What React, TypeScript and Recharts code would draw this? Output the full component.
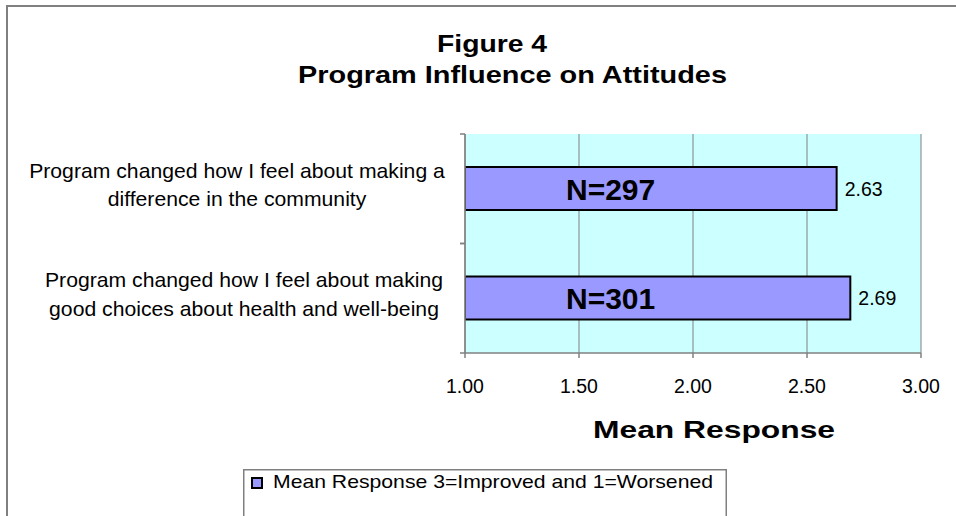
import React from "react";
import { BarChart, Bar, XAxis, YAxis, CartesianGrid, LabelList, Legend } from "recharts";

// ---- data ----
const categories = [
  "Program changed how I feel about making a|difference in the community",
  "Program changed how I feel about making|good choices about health and well-being",
];
const meanValues = [2.63, 2.69];
const sampleSizes = ["N=297", "N=301"];
const xTicks = [1, 1.5, 2, 2.5, 3];
const seriesName = "Mean Response 3=Improved and 1=Worsened";
const titleLines = ["Figure 4", "Program Influence on Attitudes"];
const xAxisTitle = "Mean Response";

const data = categories.map((c, i) => ({ category: c, value: meanValues[i], n: sampleSizes[i] }));

// ---- styles ----
const FONT = "'Liberation Sans', Arial, Helvetica, sans-serif";
const LABEL_CENTER_OFFSETS = [-228, -221];
const LINE_OFFSETS = [-11, 17.5];
const AXIS_GRAY = "#808080";

const CatTick = (props: any) => {
  const { x, y, payload } = props;
  const idx = categories.indexOf(payload.value);
  const lines = String(payload.value).split("|");
  const cx = x + (LABEL_CENTER_OFFSETS[idx] ?? -225);
  const half = Number(payload && payload.offset) || 0;
  return (
    <g>
      {half > 0 && (
        <>
          <line x1={x - 5} x2={x} y1={y - half} y2={y - half} stroke={AXIS_GRAY} strokeWidth={1.5} />
          <line x1={x - 5} x2={x} y1={y + half} y2={y + half} stroke={AXIS_GRAY} strokeWidth={1.5} />
        </>
      )}
      {lines.map((l, i) => (
        <g key={i} transform={`translate(${cx},${y + LINE_OFFSETS[i]}) scale(1.06,1)`}>
          <text x={0} y={0} textAnchor="middle" fontSize={20} fill="#000" fontFamily={FONT}>
            {l}
          </text>
        </g>
      ))}
    </g>
  );
};

const XTick = (props: any) => {
  const { x, y, payload } = props;
  return (
    <text x={x} y={y} dy="0.71em" textAnchor="middle" fontSize={19.5} fill="#000" fontFamily={FONT}>
      {Number(payload.value).toFixed(2)}
    </text>
  );
};

const NLabel = (props: any) => {
  const { x, y, height, value } = props;
  return (
    <text x={Number(x) + 101} y={Number(y) + Number(height) / 2} dy="0.38em" textAnchor="start" fontSize={30} fontWeight="bold" fill="#000" fontFamily={FONT}>
      {value}
    </text>
  );
};

const ValueLabel = (props: any) => {
  const { x, y, width, height, value } = props;
  return (
    <text x={Number(x) + Number(width) + 8} y={Number(y) + Number(height) / 2} dy="0.36em" textAnchor="start" fontSize={19.5} fill="#000" fontFamily={FONT}>
      {Number(value).toFixed(2)}
    </text>
  );
};

const LegendContent = (props: any) => {
  const { payload } = props;
  const item = payload && payload[0];
  return (
    <svg width={484} height={50} style={{ display: "block" }}>
      <rect x={0.75} y={0.75} width={482.5} height={60} fill="#fff" stroke={AXIS_GRAY} strokeWidth={1.5} />
      <rect x={9} y={9} width={10} height={10} fill="#9999FF" stroke="#000" strokeWidth={2} />
      <text x={30} y={18.5} fontSize={19} fill="#000" fontFamily={FONT} textLength={440} lengthAdjust="spacingAndGlyphs">
        {item ? item.value : seriesName}
      </text>
    </svg>
  );
};

export default function App() {
  return (
    <div style={{ position: "absolute", left: 0, top: 0, width: 956, height: 516, overflow: "hidden", background: "#fff", fontFamily: FONT }}>
      <div style={{ position: "absolute", left: 6, top: 5, width: 1000, height: 600, border: `2px solid ${AXIS_GRAY}`, boxSizing: "border-box" }} />
      <div style={{ position: "absolute", left: 0, top: 0 }}>
        <BarChart width={956} height={516} data={data} layout="vertical" margin={{ top: 134, right: 35, bottom: 83, left: 464 }} barSize={43}>
          <CartesianGrid horizontal={false} vertical={true} fill="#CCFFFF" fillOpacity={1} stroke={AXIS_GRAY} strokeWidth={1} />
          <XAxis
            type="number"
            domain={[1, 3]}
            ticks={xTicks}
            allowDataOverflow
            height={30}
            axisLine={{ stroke: AXIS_GRAY, strokeWidth: 1.5 }}
            tickLine={{ stroke: AXIS_GRAY, strokeWidth: 1.5 }}
            tickSize={5}
            tickMargin={21}
            tick={XTick}
            interval={0}
          />
          <YAxis
            type="category"
            dataKey="category"
            width={1}
            tickLine={false}
            axisLine={{ stroke: AXIS_GRAY, strokeWidth: 1.5 }}
            tickSize={0}
            tickMargin={0}
            tick={CatTick}
            interval={0}
          />
          <Legend
            layout="horizontal"
            verticalAlign="bottom"
            align="left"
            wrapperStyle={{ position: "absolute", left: 243, top: 469, width: 484, height: 50, bottom: "auto" }}
            content={LegendContent}
          />
          <Bar dataKey="value" name={seriesName} fill="#9999FF" stroke="#000" strokeWidth={2} isAnimationActive={false}>
            <LabelList dataKey="value" content={ValueLabel} />
            <LabelList dataKey="n" content={NLabel} />
          </Bar>
        </BarChart>
      </div>
      <svg width={956} height={516} style={{ position: "absolute", left: 0, top: 0, pointerEvents: "none" }}>
        <text x={492} y={52} textAnchor="middle" fontSize={24} fontWeight="bold" fill="#000" fontFamily={FONT} textLength={110} lengthAdjust="spacingAndGlyphs">
          {titleLines[0]}
        </text>
        <text x={512.5} y={83} textAnchor="middle" fontSize={24} fontWeight="bold" fill="#000" fontFamily={FONT} textLength={429} lengthAdjust="spacingAndGlyphs">
          {titleLines[1]}
        </text>
        <text x={714} y={438} textAnchor="middle" fontSize={24} fontWeight="bold" fill="#000" fontFamily={FONT} textLength={242} lengthAdjust="spacingAndGlyphs">
          {xAxisTitle}
        </text>
      </svg>
    </div>
  );
}
